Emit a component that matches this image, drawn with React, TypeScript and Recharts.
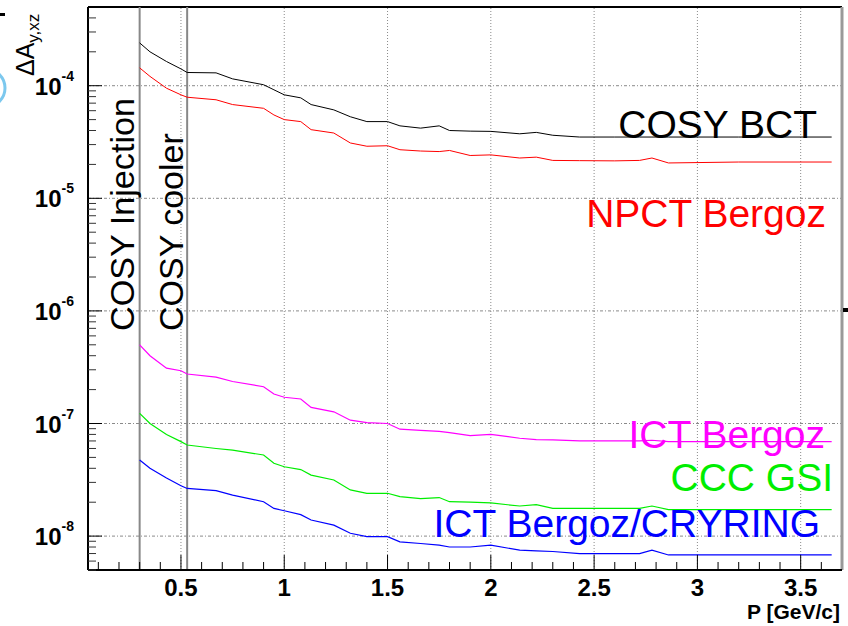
import React from 'react';
import { LineChart, Line, XAxis, YAxis, ReferenceLine } from 'recharts';

// Momentum P [GeV/c]
const momentum = [0.30, 0.35, 0.43, 0.50, 0.53, 0.67, 0.75, 0.90, 0.95, 1.00, 1.08, 1.13, 1.24, 1.32, 1.40, 1.50, 1.56, 1.66, 1.75, 1.80, 1.90, 2.00, 2.14, 2.22, 2.30, 2.43, 2.60, 2.72, 2.78, 2.86, 3.20, 3.65];

const cosyBct = [2.4e-4, 2.0e-4, 1.64e-4, 1.41e-4, 1.31e-4, 1.30e-4, 1.15e-4, 1.02e-4, 9.2e-5, 8.3e-5, 7.8e-5, 6.8e-5, 6.1e-5, 5.3e-5, 4.8e-5, 4.8e-5, 4.4e-5, 4.2e-5, 4.4e-5, 4.0e-5, 3.95e-5, 3.93e-5, 3.74e-5, 3.85e-5, 3.63e-5, 3.5e-5, 3.5e-5, 3.5e-5, 3.5e-5, 3.5e-5, 3.5e-5, 3.5e-5];
const npctBergoz = [1.44e-4, 1.21e-4, 9.5e-5, 8.3e-5, 7.9e-5, 7.5e-5, 6.8e-5, 6.3e-5, 5.5e-5, 5.0e-5, 4.8e-5, 4.07e-5, 3.8e-5, 3.1e-5, 2.9e-5, 2.93e-5, 2.7e-5, 2.63e-5, 2.6e-5, 2.66e-5, 2.4e-5, 2.43e-5, 2.28e-5, 2.32e-5, 2.17e-5, 2.16e-5, 2.15e-5, 2.17e-5, 2.28e-5, 2.06e-5, 2.1e-5, 2.1e-5];
const ictBergoz = [4.99e-7, 4.0e-7, 3.1e-7, 2.94e-7, 2.75e-7, 2.58e-7, 2.36e-7, 2.12e-7, 1.83e-7, 1.71e-7, 1.65e-7, 1.39e-7, 1.27e-7, 1.07e-7, 1.02e-7, 1.0e-7, 8.9e-8, 8.7e-8, 8.5e-8, 8.3e-8, 7.8e-8, 8.0e-8, 7.4e-8, 7.2e-8, 7.15e-8, 7.0e-8, 7.0e-8, 7.0e-8, 7.1e-8, 6.9e-8, 6.9e-8, 6.9e-8];
const cccGsi = [1.23e-7, 1.0e-7, 8.0e-8, 6.9e-8, 6.44e-8, 6.0e-8, 5.8e-8, 5.25e-8, 4.43e-8, 4.13e-8, 3.9e-8, 3.48e-8, 3.15e-8, 2.57e-8, 2.4e-8, 2.4e-8, 2.24e-8, 2.15e-8, 2.2e-8, 2.02e-8, 2.0e-8, 1.97e-8, 1.85e-8, 1.9e-8, 1.76e-8, 1.76e-8, 1.76e-8, 1.76e-8, 1.85e-8, 1.72e-8, 1.72e-8, 1.72e-8];
const ictCryring = [4.74e-8, 4.0e-8, 3.28e-8, 2.8e-8, 2.65e-8, 2.53e-8, 2.31e-8, 2.02e-8, 1.76e-8, 1.68e-8, 1.55e-8, 1.39e-8, 1.25e-8, 1.06e-8, 9.9e-9, 9.9e-9, 8.9e-9, 8.6e-9, 8.3e-9, 8.0e-9, 8.0e-9, 8.3e-9, 7.5e-9, 7.4e-9, 7.3e-9, 7.0e-9, 7.0e-9, 7.0e-9, 7.5e-9, 6.8e-9, 6.8e-9, 6.8e-9];

// Axes
const xMajorTicks = [0.5, 1, 1.5, 2, 2.5, 3, 3.5];
const xTickLabels = ['0.5', '1', '1.5', '2', '2.5', '3', '3.5'];
const xMinorTicks = [0.1, 0.2, 0.3, 0.4, 0.6, 0.7, 0.8, 0.9, 1.1, 1.2, 1.3, 1.4, 1.6, 1.7, 1.8, 1.9, 2.1, 2.2, 2.3, 2.4, 2.6, 2.7, 2.8, 2.9, 3.1, 3.2, 3.3, 3.4, 3.6];
const yDecades = [1e-8, 1e-7, 1e-6, 1e-5, 1e-4];
const yDecadeExponents = ['-8', '-7', '-6', '-5', '-4'];
const yMinorTicks = [
  5e-9, 6e-9, 7e-9, 8e-9, 9e-9,
  2e-8, 3e-8, 4e-8, 5e-8, 6e-8, 7e-8, 8e-8, 9e-8,
  2e-7, 3e-7, 4e-7, 5e-7, 6e-7, 7e-7, 8e-7, 9e-7,
  2e-6, 3e-6, 4e-6, 5e-6, 6e-6, 7e-6, 8e-6, 9e-6,
  2e-5, 3e-5, 4e-5, 5e-5, 6e-5, 7e-5, 8e-5, 9e-5,
  2e-4, 3e-4, 4e-4,
];
const markerP = [0.30, 0.53];
const markerLabels = ['COSY Injection', 'COSY cooler'];

const data = momentum.map((p, i) => ({
  p,
  cosyBct: cosyBct[i],
  npctBergoz: npctBergoz[i],
  ictBergoz: ictBergoz[i],
  cccGsi: cccGsi[i],
  ictCryring: ictCryring[i],
}));

const FONT = '"Liberation Sans", Arial, Helvetica, sans-serif';
const X_MARGIN = 8;
const Y_MARGIN = 14;

const XTick = (props: any) => {
  const { x, y, payload } = props;
  const v = payload.value;
  const idx = xMajorTicks.findIndex((m) => Math.abs(m - v) < 1e-6);
  const ay = y - X_MARGIN;
  const len = idx >= 0 ? 15 : 8;
  return (
    <g>
      <line x1={x} x2={x} y1={ay} y2={ay - len} stroke="#000" strokeWidth={1} />
      {idx >= 0 && (
        <text x={x} y={y + 18} textAnchor="middle" fontFamily={FONT} fontWeight="bold" fontSize={24} fill="#000">
          {xTickLabels[idx]}
        </text>
      )}
    </g>
  );
};

const YTick = (props: any) => {
  const { x, y, payload } = props;
  const v = payload.value;
  const idx = yDecades.findIndex((d) => Math.abs(d - v) < d * 1e-6);
  const ax = x + Y_MARGIN;
  const len = idx >= 0 ? 14 : 8;
  return (
    <g>
      <line x1={ax} x2={ax + len} y1={y} y2={y} stroke={idx >= 0 ? '#000' : '#333'} strokeWidth={1} />
      {idx >= 0 && (
        <text x={x} y={y + 9} textAnchor="end" fontFamily={FONT} fontWeight="bold" fontSize={24} fill="#000">
          10
          <tspan dy={-14} fontSize={14}>{yDecadeExponents[idx]}</tspan>
        </text>
      )}
    </g>
  );
};

const seriesLabelStyle = { fontFamily: FONT, fontSize: 39 } as const;

export default function App() {
  return (
    <div style={{ position: 'absolute', left: 0, top: 0, width: 848, height: 626, background: '#fff' }}>
      <LineChart width={848} height={626} data={data} margin={{ top: 7, right: 6, bottom: 0, left: 0 }}>
        <XAxis
          dataKey="p"
          type="number"
          domain={[0.05, 3.7]}
          allowDataOverflow
          ticks={[...xMinorTicks, ...xMajorTicks].sort((a, b) => a - b)}
          interval={0}
          tickSize={0}
          tickMargin={X_MARGIN}
          tick={XTick}
          tickLine={false}
          height={56}
          axisLine={{ stroke: '#000', strokeWidth: 2 }}
        />
        <YAxis
          type="number"
          scale="log"
          domain={[5e-9, 5e-4]}
          allowDataOverflow
          ticks={[...yMinorTicks, ...yDecades].sort((a, b) => a - b)}
          interval={0}
          tickSize={0}
          tickMargin={Y_MARGIN}
          tick={YTick}
          tickLine={false}
          width={88}
          axisLine={{ stroke: '#000', strokeWidth: 2 }}
        />
        {xMajorTicks.map((v) => (
          <ReferenceLine key={'gx' + v} x={v} stroke="#8a8a8a" strokeWidth={1} strokeDasharray="1 2" />
        ))}
        {yDecades.map((v) => (
          <ReferenceLine key={'gy' + v} y={v} stroke="#8a8a8a" strokeWidth={1} strokeDasharray="3 2 1 2" />
        ))}
        <ReferenceLine y={5e-4} stroke="#000" strokeWidth={2} />
        <ReferenceLine x={3.7} stroke="#999" strokeWidth={3} />
        {markerP.map((v) => (
          <ReferenceLine key={'m' + v} x={v} stroke="#888" strokeWidth={2} />
        ))}
        <Line type="linear" dataKey="cosyBct" stroke="#000000" strokeWidth={1} dot={false} isAnimationActive={false} />
        <Line type="linear" dataKey="npctBergoz" stroke="#ff0000" strokeWidth={1} dot={false} isAnimationActive={false} />
        <Line type="linear" dataKey="ictBergoz" stroke="#ff00ff" strokeWidth={1.2} dot={false} isAnimationActive={false} />
        <Line type="linear" dataKey="cccGsi" stroke="#00ee00" strokeWidth={1.2} dot={false} isAnimationActive={false} />
        <Line type="linear" dataKey="ictCryring" stroke="#0000ff" strokeWidth={1.2} dot={false} isAnimationActive={false} />
      </LineChart>
      <svg width={848} height={626} style={{ position: 'absolute', left: 0, top: 0, pointerEvents: 'none' }}>
        <text x={817} y={138} textAnchor="end" fill="#000" {...seriesLabelStyle}>COSY BCT</text>
        <text x={826} y={227} textAnchor="end" fill="#ff0000" {...seriesLabelStyle}>NPCT Bergoz</text>
        <text x={825} y={448} textAnchor="end" fill="#ff00ff" {...seriesLabelStyle}>ICT Bergoz</text>
        <text x={833} y={491} textAnchor="end" fill="#00ee00" {...seriesLabelStyle}>CCC GSI</text>
        <text x={820} y={537} textAnchor="end" fill="#0000ff" {...seriesLabelStyle}>ICT Bergoz/CRYRING</text>
        <text x={134} y={331} transform="rotate(-90 134 331)" fill="#000" fontFamily={FONT} fontSize={34} textLength={233} lengthAdjust="spacingAndGlyphs">{markerLabels[0]}</text>
        <text x={183} y={331} transform="rotate(-90 183 331)" fill="#000" fontFamily={FONT} fontSize={34}>{markerLabels[1]}</text>
        <text x={34} y={76} transform="rotate(-90 34 76)" fill="#000" fontFamily={FONT} fontSize={25}>
          ΔA<tspan dy={5} fontSize={17}>y,xz</tspan>
        </text>
        <text x={840} y={619} textAnchor="end" fill="#000" fontFamily={FONT} fontWeight="bold" fontSize={21}>P [GeV/c]</text>
        <rect x={0} y={13} width={5} height={3} fill="#000" />
        <rect x={843} y={308} width={5} height={4} fill="#000" />
        <circle cx={-14} cy={88} r={19} fill="none" stroke="#7cc8ee" strokeWidth={3} />
      </svg>
    </div>
  );
}
